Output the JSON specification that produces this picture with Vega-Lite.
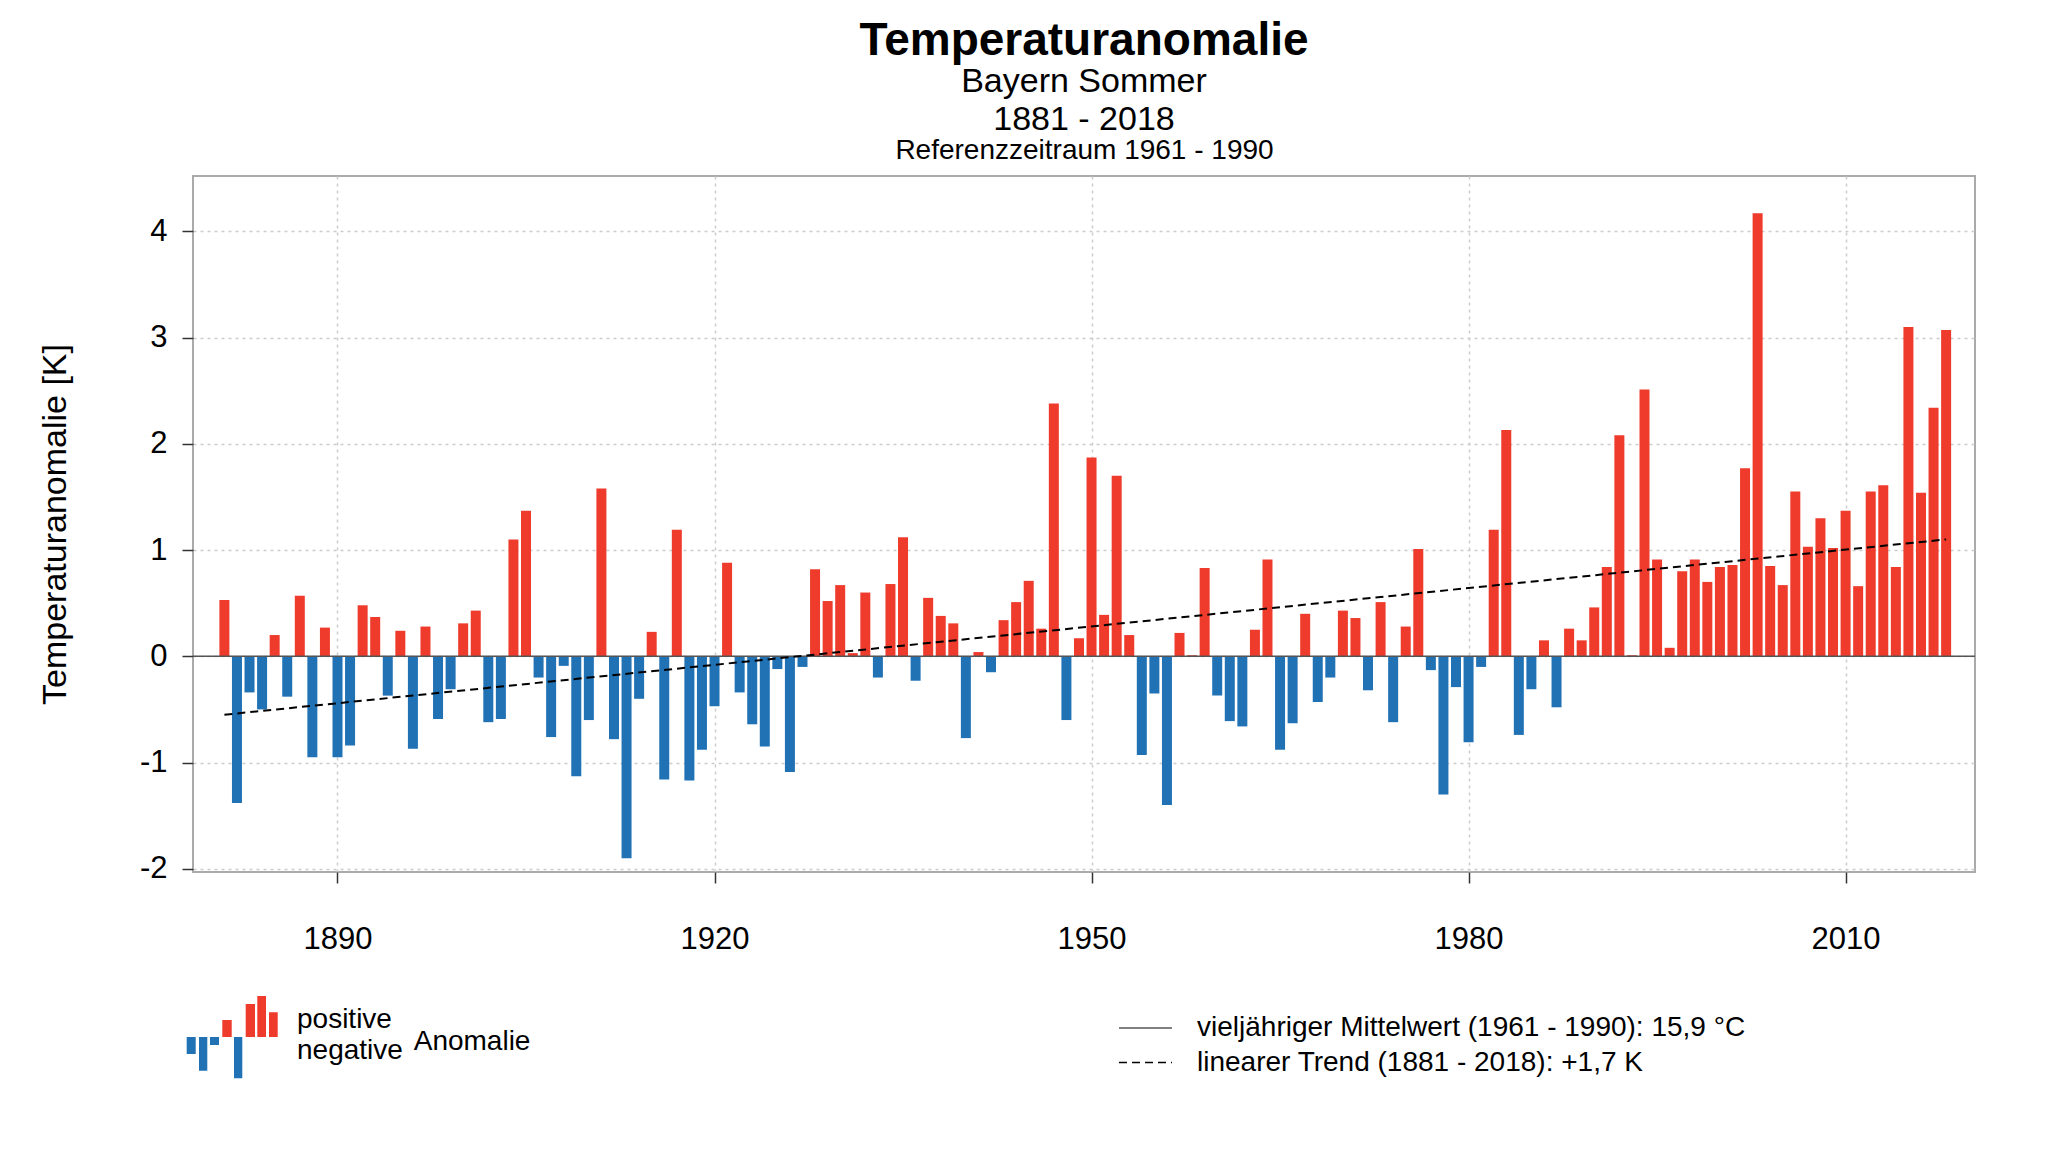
{
  "$schema": "https://vega.github.io/schema/vega-lite/v6.json",
  "width": 1782,
  "height": 696,
  "autosize": {"type": "none"},
  "padding": {"left": 193, "top": 176, "right": 73, "bottom": 280},
  "background": "white",
  "config": {
    "font": "Liberation Sans",
    "view": {"stroke": "#aaaaaa", "strokeWidth": 2},
    "axis": {"labelColor": "black", "titleColor": "black", "labelFont": "Liberation Sans", "titleFont": "Liberation Sans"},
    "legend": {"labelFont": "Liberation Sans", "titleFont": "Liberation Sans", "labelColor": "black", "titleColor": "black"}
  },
  "title": {
    "text": "Temperaturanomalie",
    "subtitle": ["Bayern Sommer", "1881 - 2018"],
    "anchor": "middle",
    "frame": "group",
    "fontSize": 46,
    "fontWeight": "bold",
    "color": "black",
    "subtitleFontSize": 34,
    "subtitleColor": "black",
    "subtitleLineHeight": 38,
    "subtitlePadding": 0,
    "offset": -2
  },
  "datasets": {
    "anomalie": [
      {"year": 1881, "anomaly": 0.53, "sign": "positive"},
      {"year": 1882, "anomaly": -1.38, "sign": "negative"},
      {"year": 1883, "anomaly": -0.34, "sign": "negative"},
      {"year": 1884, "anomaly": -0.50, "sign": "negative"},
      {"year": 1885, "anomaly": 0.20, "sign": "positive"},
      {"year": 1886, "anomaly": -0.38, "sign": "negative"},
      {"year": 1887, "anomaly": 0.57, "sign": "positive"},
      {"year": 1888, "anomaly": -0.95, "sign": "negative"},
      {"year": 1889, "anomaly": 0.27, "sign": "positive"},
      {"year": 1890, "anomaly": -0.95, "sign": "negative"},
      {"year": 1891, "anomaly": -0.84, "sign": "negative"},
      {"year": 1892, "anomaly": 0.48, "sign": "positive"},
      {"year": 1893, "anomaly": 0.37, "sign": "positive"},
      {"year": 1894, "anomaly": -0.37, "sign": "negative"},
      {"year": 1895, "anomaly": 0.24, "sign": "positive"},
      {"year": 1896, "anomaly": -0.87, "sign": "negative"},
      {"year": 1897, "anomaly": 0.28, "sign": "positive"},
      {"year": 1898, "anomaly": -0.59, "sign": "negative"},
      {"year": 1899, "anomaly": -0.31, "sign": "negative"},
      {"year": 1900, "anomaly": 0.31, "sign": "positive"},
      {"year": 1901, "anomaly": 0.43, "sign": "positive"},
      {"year": 1902, "anomaly": -0.62, "sign": "negative"},
      {"year": 1903, "anomaly": -0.59, "sign": "negative"},
      {"year": 1904, "anomaly": 1.10, "sign": "positive"},
      {"year": 1905, "anomaly": 1.37, "sign": "positive"},
      {"year": 1906, "anomaly": -0.20, "sign": "negative"},
      {"year": 1907, "anomaly": -0.76, "sign": "negative"},
      {"year": 1908, "anomaly": -0.09, "sign": "negative"},
      {"year": 1909, "anomaly": -1.13, "sign": "negative"},
      {"year": 1910, "anomaly": -0.60, "sign": "negative"},
      {"year": 1911, "anomaly": 1.58, "sign": "positive"},
      {"year": 1912, "anomaly": -0.78, "sign": "negative"},
      {"year": 1913, "anomaly": -1.90, "sign": "negative"},
      {"year": 1914, "anomaly": -0.40, "sign": "negative"},
      {"year": 1915, "anomaly": 0.23, "sign": "positive"},
      {"year": 1916, "anomaly": -1.16, "sign": "negative"},
      {"year": 1917, "anomaly": 1.19, "sign": "positive"},
      {"year": 1918, "anomaly": -1.17, "sign": "negative"},
      {"year": 1919, "anomaly": -0.88, "sign": "negative"},
      {"year": 1920, "anomaly": -0.47, "sign": "negative"},
      {"year": 1921, "anomaly": 0.88, "sign": "positive"},
      {"year": 1922, "anomaly": -0.34, "sign": "negative"},
      {"year": 1923, "anomaly": -0.64, "sign": "negative"},
      {"year": 1924, "anomaly": -0.85, "sign": "negative"},
      {"year": 1925, "anomaly": -0.12, "sign": "negative"},
      {"year": 1926, "anomaly": -1.09, "sign": "negative"},
      {"year": 1927, "anomaly": -0.10, "sign": "negative"},
      {"year": 1928, "anomaly": 0.82, "sign": "positive"},
      {"year": 1929, "anomaly": 0.52, "sign": "positive"},
      {"year": 1930, "anomaly": 0.67, "sign": "positive"},
      {"year": 1931, "anomaly": 0.03, "sign": "positive"},
      {"year": 1932, "anomaly": 0.60, "sign": "positive"},
      {"year": 1933, "anomaly": -0.20, "sign": "negative"},
      {"year": 1934, "anomaly": 0.68, "sign": "positive"},
      {"year": 1935, "anomaly": 1.12, "sign": "positive"},
      {"year": 1936, "anomaly": -0.23, "sign": "negative"},
      {"year": 1937, "anomaly": 0.55, "sign": "positive"},
      {"year": 1938, "anomaly": 0.38, "sign": "positive"},
      {"year": 1939, "anomaly": 0.31, "sign": "positive"},
      {"year": 1940, "anomaly": -0.77, "sign": "negative"},
      {"year": 1941, "anomaly": 0.04, "sign": "positive"},
      {"year": 1942, "anomaly": -0.15, "sign": "negative"},
      {"year": 1943, "anomaly": 0.34, "sign": "positive"},
      {"year": 1944, "anomaly": 0.51, "sign": "positive"},
      {"year": 1945, "anomaly": 0.71, "sign": "positive"},
      {"year": 1946, "anomaly": 0.26, "sign": "positive"},
      {"year": 1947, "anomaly": 2.38, "sign": "positive"},
      {"year": 1948, "anomaly": -0.60, "sign": "negative"},
      {"year": 1949, "anomaly": 0.17, "sign": "positive"},
      {"year": 1950, "anomaly": 1.87, "sign": "positive"},
      {"year": 1951, "anomaly": 0.39, "sign": "positive"},
      {"year": 1952, "anomaly": 1.70, "sign": "positive"},
      {"year": 1953, "anomaly": 0.20, "sign": "positive"},
      {"year": 1954, "anomaly": -0.93, "sign": "negative"},
      {"year": 1955, "anomaly": -0.35, "sign": "negative"},
      {"year": 1956, "anomaly": -1.40, "sign": "negative"},
      {"year": 1957, "anomaly": 0.22, "sign": "positive"},
      {"year": 1958, "anomaly": 0.01, "sign": "positive"},
      {"year": 1959, "anomaly": 0.83, "sign": "positive"},
      {"year": 1960, "anomaly": -0.37, "sign": "negative"},
      {"year": 1961, "anomaly": -0.61, "sign": "negative"},
      {"year": 1962, "anomaly": -0.66, "sign": "negative"},
      {"year": 1963, "anomaly": 0.25, "sign": "positive"},
      {"year": 1964, "anomaly": 0.91, "sign": "positive"},
      {"year": 1965, "anomaly": -0.88, "sign": "negative"},
      {"year": 1966, "anomaly": -0.63, "sign": "negative"},
      {"year": 1967, "anomaly": 0.40, "sign": "positive"},
      {"year": 1968, "anomaly": -0.43, "sign": "negative"},
      {"year": 1969, "anomaly": -0.20, "sign": "negative"},
      {"year": 1970, "anomaly": 0.43, "sign": "positive"},
      {"year": 1971, "anomaly": 0.36, "sign": "positive"},
      {"year": 1972, "anomaly": -0.32, "sign": "negative"},
      {"year": 1973, "anomaly": 0.51, "sign": "positive"},
      {"year": 1974, "anomaly": -0.62, "sign": "negative"},
      {"year": 1975, "anomaly": 0.28, "sign": "positive"},
      {"year": 1976, "anomaly": 1.01, "sign": "positive"},
      {"year": 1977, "anomaly": -0.13, "sign": "negative"},
      {"year": 1978, "anomaly": -1.30, "sign": "negative"},
      {"year": 1979, "anomaly": -0.29, "sign": "negative"},
      {"year": 1980, "anomaly": -0.81, "sign": "negative"},
      {"year": 1981, "anomaly": -0.10, "sign": "negative"},
      {"year": 1982, "anomaly": 1.19, "sign": "positive"},
      {"year": 1983, "anomaly": 2.13, "sign": "positive"},
      {"year": 1984, "anomaly": -0.74, "sign": "negative"},
      {"year": 1985, "anomaly": -0.31, "sign": "negative"},
      {"year": 1986, "anomaly": 0.15, "sign": "positive"},
      {"year": 1987, "anomaly": -0.48, "sign": "negative"},
      {"year": 1988, "anomaly": 0.26, "sign": "positive"},
      {"year": 1989, "anomaly": 0.15, "sign": "positive"},
      {"year": 1990, "anomaly": 0.46, "sign": "positive"},
      {"year": 1991, "anomaly": 0.84, "sign": "positive"},
      {"year": 1992, "anomaly": 2.08, "sign": "positive"},
      {"year": 1993, "anomaly": 0.01, "sign": "positive"},
      {"year": 1994, "anomaly": 2.51, "sign": "positive"},
      {"year": 1995, "anomaly": 0.91, "sign": "positive"},
      {"year": 1996, "anomaly": 0.08, "sign": "positive"},
      {"year": 1997, "anomaly": 0.80, "sign": "positive"},
      {"year": 1998, "anomaly": 0.91, "sign": "positive"},
      {"year": 1999, "anomaly": 0.70, "sign": "positive"},
      {"year": 2000, "anomaly": 0.84, "sign": "positive"},
      {"year": 2001, "anomaly": 0.86, "sign": "positive"},
      {"year": 2002, "anomaly": 1.77, "sign": "positive"},
      {"year": 2003, "anomaly": 4.17, "sign": "positive"},
      {"year": 2004, "anomaly": 0.85, "sign": "positive"},
      {"year": 2005, "anomaly": 0.67, "sign": "positive"},
      {"year": 2006, "anomaly": 1.55, "sign": "positive"},
      {"year": 2007, "anomaly": 1.03, "sign": "positive"},
      {"year": 2008, "anomaly": 1.30, "sign": "positive"},
      {"year": 2009, "anomaly": 1.02, "sign": "positive"},
      {"year": 2010, "anomaly": 1.37, "sign": "positive"},
      {"year": 2011, "anomaly": 0.66, "sign": "positive"},
      {"year": 2012, "anomaly": 1.55, "sign": "positive"},
      {"year": 2013, "anomaly": 1.61, "sign": "positive"},
      {"year": 2014, "anomaly": 0.84, "sign": "positive"},
      {"year": 2015, "anomaly": 3.10, "sign": "positive"},
      {"year": 2016, "anomaly": 1.54, "sign": "positive"},
      {"year": 2017, "anomaly": 2.34, "sign": "positive"},
      {"year": 2018, "anomaly": 3.07, "sign": "positive"}
    ],
    "mittel": [
      {"kind": "vieljähriger Mittelwert (1961 - 1990): 15,9 °C", "mittel": 0}
    ],
    "trend": [
      {"kind": "linearer Trend (1881 - 2018): +1,7 K", "year": 1881, "trend": -0.55},
      {"kind": "linearer Trend (1881 - 2018): +1,7 K", "year": 2018, "trend": 1.10}
    ]
  },
  "resolve": {"axis": {"x": "independent"}},
  "layer": [
    {
      "data": {"name": "anomalie"},
      "mark": {"type": "bar", "size": 10},
      "encoding": {
        "x": {
          "field": "year", "type": "quantitative",
          "scale": {"domain": [1878.9, 2019.9], "nice": false, "zero": false},
          "axis": {
            "orient": "bottom", "title": null, "values": [1890, 1920, 1950, 1980, 2010], "format": "d",
            "labelFontSize": 31, "labelPadding": 41, "tickSize": 11, "tickColor": "#333333", "tickWidth": 1.5,
            "domain": false, "grid": true, "gridColor": "#cccccc", "gridDash": [3, 4], "gridWidth": 1.5
          }
        },
        "y": {
          "field": "anomaly", "type": "quantitative",
          "title": "Temperaturanomalie [K]",
          "scale": {"domain": [-2.03, 4.52], "nice": false, "zero": false},
          "axis": {
            "values": [-2, -1, 0, 1, 2, 3, 4],
            "labelExpr": "datum.value < 0 ? '-' + abs(datum.value) : '' + datum.value",
            "labelFontSize": 31, "labelPadding": 15, "tickSize": 11, "tickColor": "#333333", "tickWidth": 1.5,
            "domain": false, "grid": true, "gridColor": "#cccccc", "gridDash": [3, 4], "gridWidth": 1.5,
            "titleFontSize": 34, "titleFontWeight": "normal", "titlePadding": 67
          }
        },
        "color": {
          "field": "sign", "type": "nominal",
          "scale": {"domain": ["positive", "negative"], "range": ["#EE3B2C", "#2171B5"]},
          "legend": {
            "orient": "none", "legendX": -6.3, "legendY": 830, "direction": "vertical",
            "title": "Anomalie", "titleOrient": "right", "titleFontSize": 28, "titleFontWeight": "normal",
            "titleAnchor": "middle", "titleBaseline": "middle", "titlePadding": 11,
            "symbolType": "square", "symbolSize": 784, "symbolStrokeWidth": 0,
            "labelFontSize": 28, "labelOffset": 82.3, "rowPadding": 0, "padding": 0,
            "encode": {
              "symbols": {
                "update": {
                  "shape": {"signal": "datum.value === 'positive' ? 'M1.543,1.214V0H2.214V1.214Z M3.214,1.214V-1.143H3.879V1.214Z M4.043,1.214V-1.714H4.664V1.214Z M4.879,1.214V-0.55H5.5V1.214Z' : 'M-1,-1V0.214H-0.357V-1Z M-0.121,-1V1.407H0.471V-1Z M0.664,-1V-0.429H1.307V-1Z M2.379,-1V1.95H2.971V-1Z'"}
                }
              }
            }
          }
        }
      }
    },
    {
      "data": {"name": "mittel"},
      "mark": {"type": "rule", "strokeWidth": 1.5},
      "encoding": {
        "y": {
          "field": "mittel", "type": "quantitative", "title": "Temperaturanomalie [K]",
          "scale": {"domain": [-2.03, 4.52], "nice": false, "zero": false}
        },
        "stroke": {
          "field": "kind", "type": "nominal",
          "scale": {
            "domain": ["vieljähriger Mittelwert (1961 - 1990): 15,9 °C", "linearer Trend (1881 - 2018): +1,7 K"],
            "range": ["#555555", "#000000"]
          },
          "legend": {
            "orient": "none", "legendX": 926, "legendY": 837, "direction": "vertical", "title": null,
            "symbolType": "M-1.071,0H2.714", "symbolSize": 784, "symbolStrokeWidth": 1.5,
            "labelFontSize": 28, "labelOffset": 48, "labelLimit": 1000, "rowPadding": 5.5, "padding": 0
          }
        },
        "strokeDash": {
          "field": "kind", "type": "nominal",
          "scale": {
            "domain": ["vieljähriger Mittelwert (1961 - 1990): 15,9 °C", "linearer Trend (1881 - 2018): +1,7 K"],
            "range": [[1, 0], [8, 5]]
          },
          "legend": {
            "orient": "none", "legendX": 926, "legendY": 837, "direction": "vertical", "title": null,
            "symbolType": "M-1.071,0H2.714", "symbolSize": 784, "symbolStrokeWidth": 1.5,
            "labelFontSize": 28, "labelOffset": 48, "labelLimit": 1000, "rowPadding": 5.5, "padding": 0
          }
        }
      }
    },
    {
      "data": {"name": "trend"},
      "mark": {"type": "line", "strokeWidth": 2},
      "encoding": {
        "x": {
          "field": "year", "type": "quantitative",
          "scale": {"domain": [1878.9, 2019.9], "nice": false, "zero": false},
          "axis": {
            "orient": "top", "title": "Referenzzeitraum 1961 - 1990", "labels": false, "ticks": false,
            "domain": false, "grid": false, "titleFontSize": 28, "titleFontWeight": "normal", "titlePadding": 12
          }
        },
        "y": {
          "field": "trend", "type": "quantitative", "title": "Temperaturanomalie [K]",
          "scale": {"domain": [-2.03, 4.52], "nice": false, "zero": false}
        },
        "stroke": {
          "field": "kind", "type": "nominal",
          "scale": {
            "domain": ["vieljähriger Mittelwert (1961 - 1990): 15,9 °C", "linearer Trend (1881 - 2018): +1,7 K"],
            "range": ["#555555", "#000000"]
          }
        },
        "strokeDash": {
          "field": "kind", "type": "nominal",
          "scale": {
            "domain": ["vieljähriger Mittelwert (1961 - 1990): 15,9 °C", "linearer Trend (1881 - 2018): +1,7 K"],
            "range": [[1, 0], [8, 5]]
          }
        }
      }
    }
  ]
}
